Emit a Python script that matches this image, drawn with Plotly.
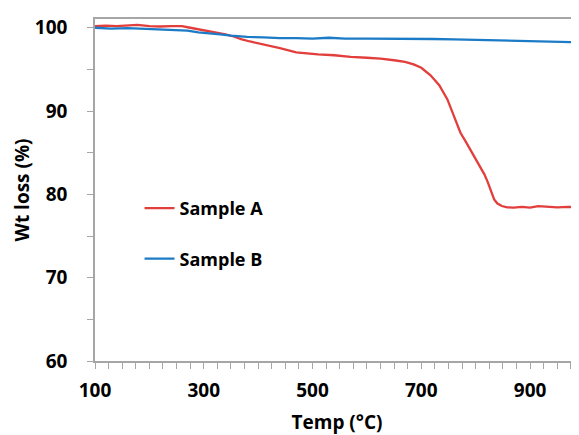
import plotly.graph_objects as go

temp_a = [100, 120, 140, 160, 178, 200, 220, 240, 260, 275, 300, 320, 340, 355, 370, 385,
          400, 420, 440, 470, 490, 510, 540, 570, 600, 625, 650, 670, 686, 700, 717, 733,
          748, 757, 765, 772, 782, 791, 800, 809, 816, 822, 828, 834, 840, 848, 858, 870,
          885, 900, 915, 930, 950, 970, 990]
wt_a = [100.2, 100.25, 100.2, 100.3, 100.35, 100.2, 100.15, 100.2, 100.2, 100.0, 99.7, 99.5,
        99.2, 98.95, 98.6, 98.35, 98.15, 97.85, 97.55, 97.05, 96.9, 96.8, 96.7, 96.5, 96.4,
        96.3, 96.1, 95.9, 95.6, 95.2, 94.3, 93.1, 91.4, 89.9, 88.5, 87.4, 86.3, 85.3, 84.3,
        83.3, 82.4, 81.5, 80.4, 79.4, 78.9, 78.6, 78.45, 78.4, 78.5, 78.4, 78.6, 78.5, 78.45,
        78.5, 78.45]

temp_b = [100, 130, 160, 190, 220, 250, 270, 290, 310, 330, 350, 380, 410, 440, 470, 500,
          530, 560, 600, 640, 680, 720, 760, 800, 840, 880, 920, 960, 990]
wt_b = [100.0, 99.9, 99.95, 99.85, 99.8, 99.7, 99.65, 99.45, 99.35, 99.2, 99.05, 98.9, 98.85,
        98.75, 98.75, 98.7, 98.8, 98.7, 98.7, 98.7, 98.7, 98.65, 98.6, 98.55, 98.45, 98.4,
        98.35, 98.3, 98.25]

x_ticks = [100, 300, 500, 700, 900]
y_ticks = [60, 70, 80, 90, 100]

FONT = "Open Sans"
fig = go.Figure()
fig.add_trace(go.Scatter(x=temp_a, y=wt_a, mode="lines", name="Sample A",
                         legendgroup="a", line=dict(color="#E23E3C", width=2.3)))
fig.add_trace(go.Scatter(x=temp_b, y=wt_b, mode="lines", name="Sample B",
                         legendgroup="b", line=dict(color="#1C7BC6", width=2.3)))

fig.update_layout(
    width=571, height=427,
    margin=dict(l=87, r=0, t=11, b=74),
    paper_bgcolor="white", plot_bgcolor="white",
    font=dict(family=FONT, color="black"),
    showlegend=True,
    legend=dict(x=0.092, y=0.50, xanchor="left", yanchor="top",
                bgcolor="rgba(0,0,0,0)", tracegroupgap=24, itemwidth=30,
                font=dict(family=FONT, size=18, color="black", weight="bold")),
    xaxis=dict(
        range=[100, 990], tickvals=x_ticks, ticks="outside", ticklen=6, tickwidth=1,
        tickcolor="#A6A6A6", showline=True, linecolor="#A6A6A6", linewidth=1.5,
        mirror=True, showgrid=False, zeroline=False,
        minor=dict(dtick=25, ticks="outside", ticklen=6, tickcolor="#A6A6A6", showgrid=False),
        tickfont=dict(family=FONT, size=19, weight="bold"), ticklabelstandoff=5,
        title=dict(text="Temp (°C)", font=dict(family=FONT, size=19, weight="bold"), standoff=14),
    ),
    yaxis=dict(
        range=[60, 101.05], tickvals=y_ticks, ticks="outside", ticklen=6, tickwidth=1,
        tickcolor="#A6A6A6", showline=True, linecolor="#A6A6A6", linewidth=1.5,
        showgrid=False, zeroline=False,
        minor=dict(dtick=5, ticks="outside", ticklen=6, tickcolor="#A6A6A6", showgrid=False),
        tickfont=dict(family=FONT, size=19, weight="bold"), ticklabelstandoff=16,
        title=dict(text="Wt loss (%)", font=dict(family=FONT, size=19, weight="bold"), standoff=0),
    ),
)

fig.write_html("out.html")
